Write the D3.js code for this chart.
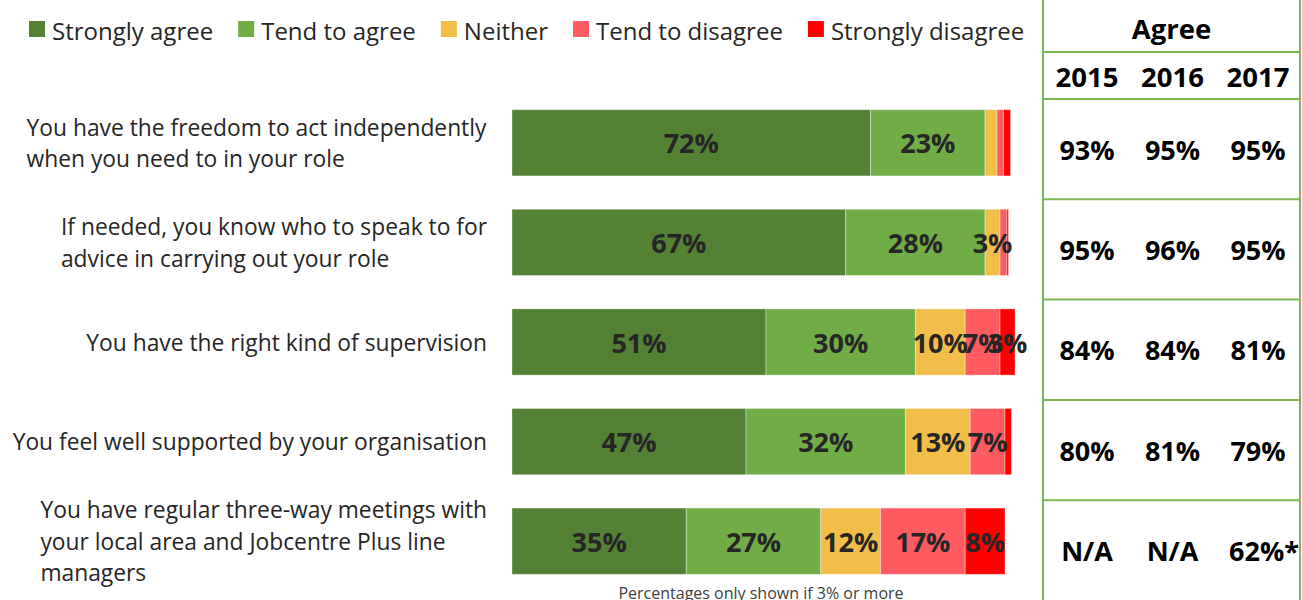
<!DOCTYPE html>
<html>
<head>
<meta charset="utf-8">
<script src="https://cdn.jsdelivr.net/npm/d3@7"></script>
<style>
  html, body { margin: 0; padding: 0; background: #fff; }
  svg { display: block; font-family: "Open Sans", "Noto Sans", sans-serif; }
</style>
</head>
<body>
<svg id="chart" width="1302" height="600"></svg>
<script>
// Survey statements (line breaks mark where each label wraps)
const categories = [
  "You have the freedom to act independently\nwhen you need to in your role",
  "If needed, you know who to speak to for\nadvice in carrying out your role",
  "You have the right kind of supervision",
  "You feel well supported by your organisation",
  "You have regular three-way meetings with\nyour local area and Jobcentre Plus line\nmanagers"
];

// Response shares (%) for each statement
const responseLevels = ["Strongly agree", "Tend to agree", "Neither", "Tend to disagree", "Strongly disagree"];
const stronglyAgree    = [72, 67, 51, 47, 35];
const tendToAgree      = [23, 28, 30, 32, 27];
const neither          = [2.4, 3, 10, 13, 12];
const tendToDisagree   = [1.3, 1.4, 7, 7, 17];
const stronglyDisagree = [1.4, 0.3, 3, 1.3, 8];
const levelColors = ["#548235", "#70ad47", "#f2be4a", "#ff5b60", "#ff0000"];

// Total agree by year
const years = ["2015", "2016", "2017"];
const agree2015 = [93, 95, 84, 80, null];
const agree2016 = [95, 96, 84, 81, null];
const agree2017 = [95, 95, 81, 79, 62];
const agreeNotes2017 = ["", "", "", "", "*"];

const footnote = "Percentages only shown if 3% or more";

const svg = d3.select("#chart");
const textColor = "#262626";
const gridGreen = "#7cb755";

// Scales
const x = d3.scaleLinear().domain([0, 100]).range([512, 1010]);
const y = d3.scaleBand().domain(d3.range(categories.length))
  .range([93, 591]).paddingInner(0.335).paddingOuter(0.1675);

// Build stacked rows
const seriesValues = [stronglyAgree, tendToAgree, neither, tendToDisagree, stronglyDisagree];
const rows = categories.map((c, i) => {
  const r = { idx: i };
  responseLevels.forEach((lvl, j) => { r[lvl] = seriesValues[j][i]; });
  return r;
});
const stacked = d3.stack().keys(responseLevels)(rows);

// Bars
const layers = svg.append("g").selectAll("g.layer")
  .data(stacked).join("g")
  .attr("class", "layer")
  .attr("fill", (d, i) => levelColors[i]);

layers.selectAll("rect")
  .data(d => d)
  .join("rect")
  .attr("x", d => x(d[0]))
  .attr("y", d => y(d.data.idx))
  .attr("width", d => x(d[1]) - x(d[0]))
  .attr("height", y.bandwidth())
  .attr("stroke", "#ffffff")
  .attr("stroke-opacity", 0.35)
  .attr("stroke-width", 1);

// Segment labels (only for 3% or more)
const labelG = svg.append("g");
stacked.forEach(layer => {
  layer.forEach(d => {
    const v = d[1] - d[0];
    if (v >= 3) {
      labelG.append("text")
        .attr("x", (x(d[0]) + x(d[1])) / 2)
        .attr("y", y(d.data.idx) + y.bandwidth() / 2)
        .attr("text-anchor", "middle")
        .attr("dominant-baseline", "central")
        .attr("font-size", 27)
        .attr("font-weight", 700)
        .attr("fill", textColor)
        .text(Math.round(v) + "%");
    }
  });
});

// Category labels: lines left-aligned, block right-aligned to the bars
const catG = svg.append("g");
const lineH = 31.5;
categories.forEach((c, i) => {
  const lines = c.split("\n");
  const cy = y(i) + y.bandwidth() / 2;
  const t = catG.append("text")
    .attr("font-size", 22.8)
    .attr("fill", textColor);
  lines.forEach((ln, k) => {
    t.append("tspan")
      .attr("x", 0)
      .attr("y", cy + (k - (lines.length - 1) / 2) * lineH)
      .attr("dominant-baseline", "central")
      .text(ln);
  });
  const w = t.node().getBBox().width;
  t.attr("transform", `translate(${487 - w},0)`);
});

// Legend
const legend = svg.append("g");
let lx = 29;
responseLevels.forEach((lvl, i) => {
  legend.append("rect")
    .attr("x", lx).attr("y", 21)
    .attr("width", 16).attr("height", 16)
    .attr("fill", levelColors[i]);
  const t = legend.append("text")
    .attr("x", lx + 23).attr("y", 30)
    .attr("dominant-baseline", "central")
    .attr("font-size", 24)
    .attr("fill", textColor)
    .text(lvl);
  lx += 23 + t.node().getComputedTextLength() + 25;
});

// Footnote
svg.append("text")
  .attr("x", 761).attr("y", 599)
  .attr("text-anchor", "middle")
  .attr("font-size", 16)
  .attr("fill", "#404040")
  .text(footnote);

// Agree table
const tLeft = 1043, tRight = 1300;
const colX = d3.scalePoint().domain(years).range([1087, 1258]);
const rowY = d3.scaleBand().domain(d3.range(categories.length)).range([99, 600.5]);
const table = svg.append("g");

table.append("line")
  .attr("x1", tLeft).attr("x2", tLeft).attr("y1", 0).attr("y2", 600)
  .attr("stroke", gridGreen).attr("stroke-width", 2);
table.append("line")
  .attr("x1", tRight).attr("x2", tRight).attr("y1", 0).attr("y2", 600)
  .attr("stroke", gridGreen).attr("stroke-width", 2);
[52].concat(d3.range(categories.length).map(i => rowY(i))).forEach(ly => {
  table.append("line")
    .attr("x1", tLeft).attr("x2", tRight).attr("y1", ly).attr("y2", ly)
    .attr("stroke", gridGreen).attr("stroke-width", 2);
});

table.append("text")
  .attr("x", (tLeft + tRight) / 2).attr("y", 28)
  .attr("text-anchor", "middle").attr("dominant-baseline", "central")
  .attr("font-size", 27.5).attr("font-weight", 700).attr("fill", "#000")
  .text("Agree");

years.forEach(yr => {
  table.append("text")
    .attr("x", colX(yr)).attr("y", 76)
    .attr("text-anchor", "middle").attr("dominant-baseline", "central")
    .attr("font-size", 27.5).attr("font-weight", 700).attr("fill", "#000")
    .text(yr);
});

const yearValues = [agree2015, agree2016, agree2017];
yearValues.forEach((vals, j) => {
  vals.forEach((v, i) => {
    const note = j === 2 ? agreeNotes2017[i] : "";
    table.append("text")
      .attr("x", colX(years[j]) + (note ? 6 : 0))
      .attr("y", rowY(i) + rowY.bandwidth() / 2)
      .attr("text-anchor", "middle").attr("dominant-baseline", "central")
      .attr("font-size", 27).attr("font-weight", 700).attr("fill", "#000")
      .text(v === null ? "N/A" : v + "%" + note);
  });
});
</script>
</body>
</html>
